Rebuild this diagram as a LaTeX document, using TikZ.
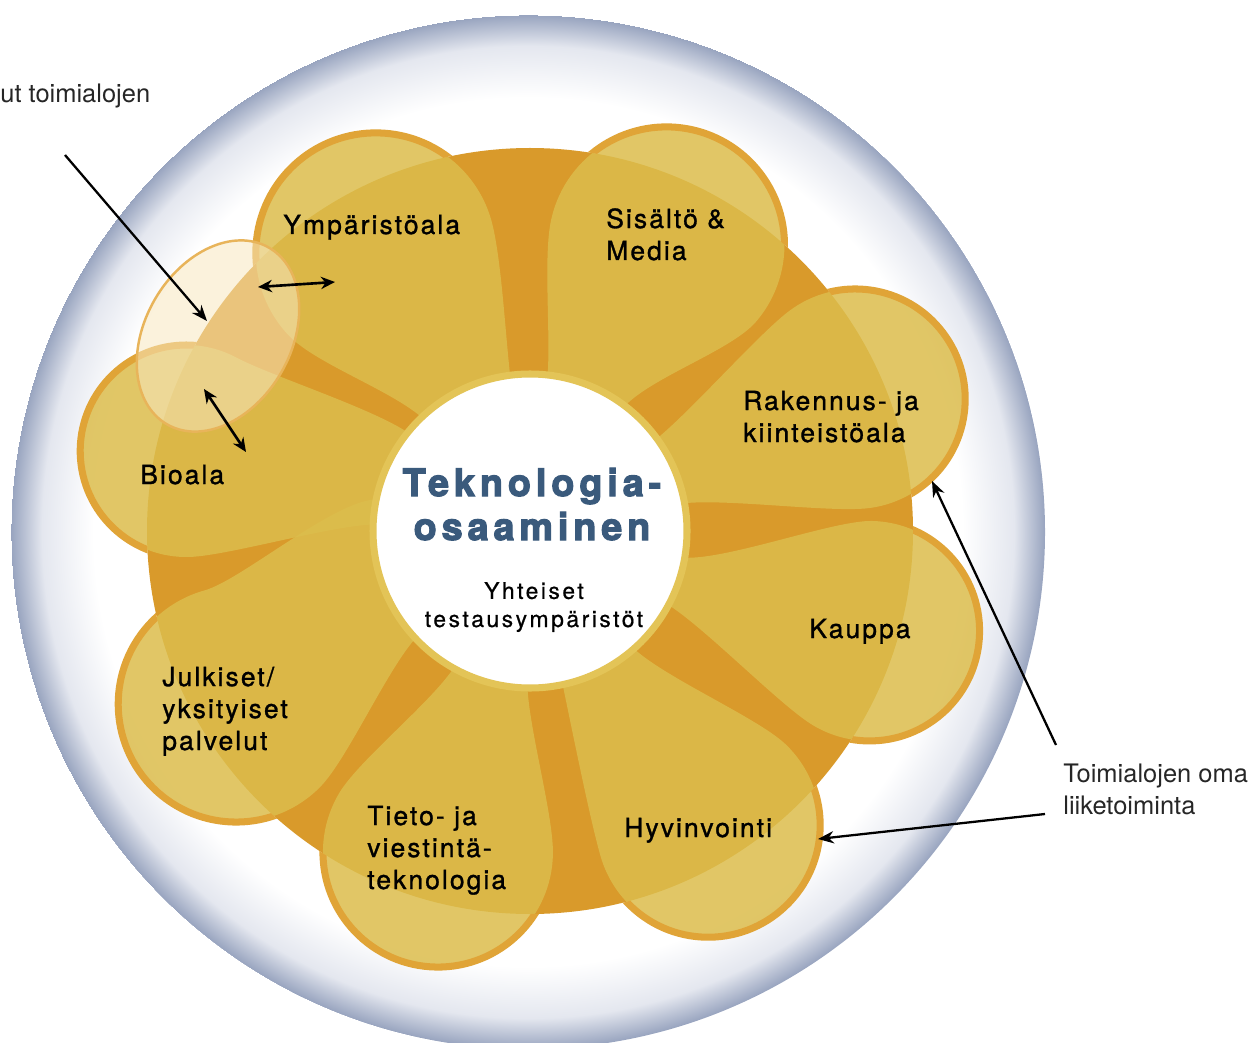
\documentclass[tikz,border=0pt]{standalone}
\usepackage{fontspec}
\setmainfont{TeX Gyre Heros}
\newfontfamily\petalfont[LetterSpace=8,FakeBold=1.2]{TeX Gyre Heros}
\newfontfamily\titlefont[LetterSpace=13,FakeBold=3]{TeX Gyre Heros}
\newfontfamily\subfont[LetterSpace=11,FakeBold=0.6]{TeX Gyre Heros}
\usetikzlibrary{arrows.meta}

\definecolor{ringorange}{HTML}{D99A2B}
\definecolor{petalfill}{HTML}{DCBD4C}
\definecolor{petaledge}{HTML}{E0A437}
\definecolor{hubedge}{HTML}{E3C457}
\definecolor{titleblue}{HTML}{3A5A7C}
\definecolor{lensfill}{HTML}{F8E8C0}
\definecolor{lensedge}{HTML}{E8B45A}
\definecolor{haloin}{HTML}{E4E7EF}
\definecolor{haloout}{HTML}{98A4BF}
\pgfdeclareradialshading{halo}{\pgfpointorigin}{color(0bp)=(white); color(21bp)=(white); color(23.5bp)=(haloin); color(25bp)=(haloout)}

\tikzset{
  petal/.style={fill=petalfill, fill opacity=0.85},
  petalrim/.style={draw=petaledge, line width=4pt},
  sector/.style={font=\petalfont\fontsize{15pt}{18.2pt}\selectfont, align=left, anchor=base west, inner sep=0pt},
  note/.style={font=\fontsize{14.5pt}{18.2pt}\selectfont, align=left, anchor=base west, inner sep=0pt, text=black!85},
  pointer/.style={-{Stealth[length=9pt,width=7pt]}, line width=1.3pt},
  twoway/.style={{Stealth[length=8pt,width=7pt]}-{Stealth[length=8pt,width=7pt]}, line width=1.5pt}
}

\begin{document}
\begin{tikzpicture}[x=0.02cm, y=0.02cm]
\useasboundingbox (0,0) rectangle (1253,-1043);
% halo and ring
\shade[shading=halo] (528,-532) circle[radius=517];
\fill[ringorange] (530,-531) circle[radius=383];
% petals: axis/distance/radius/inner angles
\foreach \tc/\d/\r/\ta/\tb in {119/318/120/133.5/97.3, 64.5/317/118/83.5/53, 22.1/351/110/36/10.3, -16.4/354/110/-10/-28, -58.8/344/112/-48.7/-78, -106/334/115/-91/-119, -149.5/341/118/-137/-192, 166.9/353/106/177.5/141}{
  \pgfmathsetmacro{\sa}{\tc+105}
  \pgfmathsetmacro{\sb}{\tc-105}
  \pgfmathsetmacro{\px}{530+\d*cos(\tc)}
  \pgfmathsetmacro{\py}{-531+\d*sin(\tc)}
  \pgfmathsetmacro{\ax}{\px+\r*cos(\sa)}
  \pgfmathsetmacro{\ay}{\py+\r*sin(\sa)}
  \pgfmathsetmacro{\bx}{\px+\r*cos(\sb)}
  \pgfmathsetmacro{\by}{\py+\r*sin(\sb)}
  \fill[petal] ([shift={(\ta:150)}]530,-531) .. controls ([shift={(\ta:190)}]530,-531) and ([shift={(\sa+90:40)}]\ax,\ay) .. (\ax,\ay)
    arc[start angle=\sa, end angle=\sb, radius=\r]
    .. controls ([shift={(\sb-90:40)}]\bx,\by) and ([shift={(\tb:190)}]530,-531) .. ([shift={(\tb:150)}]530,-531) -- cycle;
  \begin{scope}
    \clip (0,0) -- (1253,0) -- (1253,-1043) -- (0,-1043) -- cycle (530,-531) circle[radius=383];
    \draw[petalrim] (\ax,\ay) arc[start angle=\sa, end angle=\sb, radius=\r];
  \end{scope}
}
% hub
\filldraw[fill=white, draw=hubedge, line width=4pt] (530,-531) circle[radius=157];
% shared area
\filldraw[fill=lensfill, fill opacity=0.55, draw=lensedge, line width=1.4pt, rotate around={60:(218,-336)}] (218,-336) ellipse[x radius=102, y radius=73];

\node (ymp) [sector] at (283,-234) {Ympäristöala};
\node (sis) [sector] at (606,-260) {Sisältö \&\\Media};
\node (rak) [sector] at (743,-442) {Rakennus- ja\\kiinteistöala};
\node (kau) [sector] at (809,-638) {Kauppa};
\node (hyv) [sector] at (624,-837) {Hyvinvointi};
\node (tie) [sector] at (367,-889) {Tieto- ja\\viestintä-\\teknologia};
\node (jul) [sector] at (162,-750) {Julkiset/\\yksityiset\\palvelut};
\node (bio) [sector] at (140,-484) {Bioala};
\node (core) [font=\titlefont\bfseries\fontsize{21.5pt}{25pt}\selectfont, text=titleblue, align=center, anchor=base, inner sep=0pt] at (532,-540) {Teknologia-\\osaaminen};
\node (shared) [font=\subfont\fontsize{13pt}{16pt}\selectfont, align=center, anchor=base, inner sep=0pt] at (534,-627) {Yhteiset\\testausympäristöt};
\node (cross) [note] at (0,-103) {ut toimialojen};
\node (own) [note] at (1063,-814) {Toimialojen oma\\liiketoiminta};

\coordinate (crossA) at (65,-155);
\coordinate (crossB) at (207,-321);
\coordinate (ympA) at (258,-287);
\coordinate (ympB) at (335,-282);
\coordinate (bioA) at (204,-389);
\coordinate (bioB) at (246,-452);
\coordinate (ownA) at (1056,-745);
\coordinate (ownB) at (932,-481);
\coordinate (ownC) at (1045,-814);
\coordinate (ownD) at (818,-839);
\foreach \from/\to in {crossA/crossB, ownA/ownB, ownC/ownD}
  \draw[pointer] (\from) -- (\to);
\foreach \from/\to in {ympA/ympB, bioA/bioB}
  \draw[twoway] (\from) -- (\to);
\end{tikzpicture}
\end{document}
